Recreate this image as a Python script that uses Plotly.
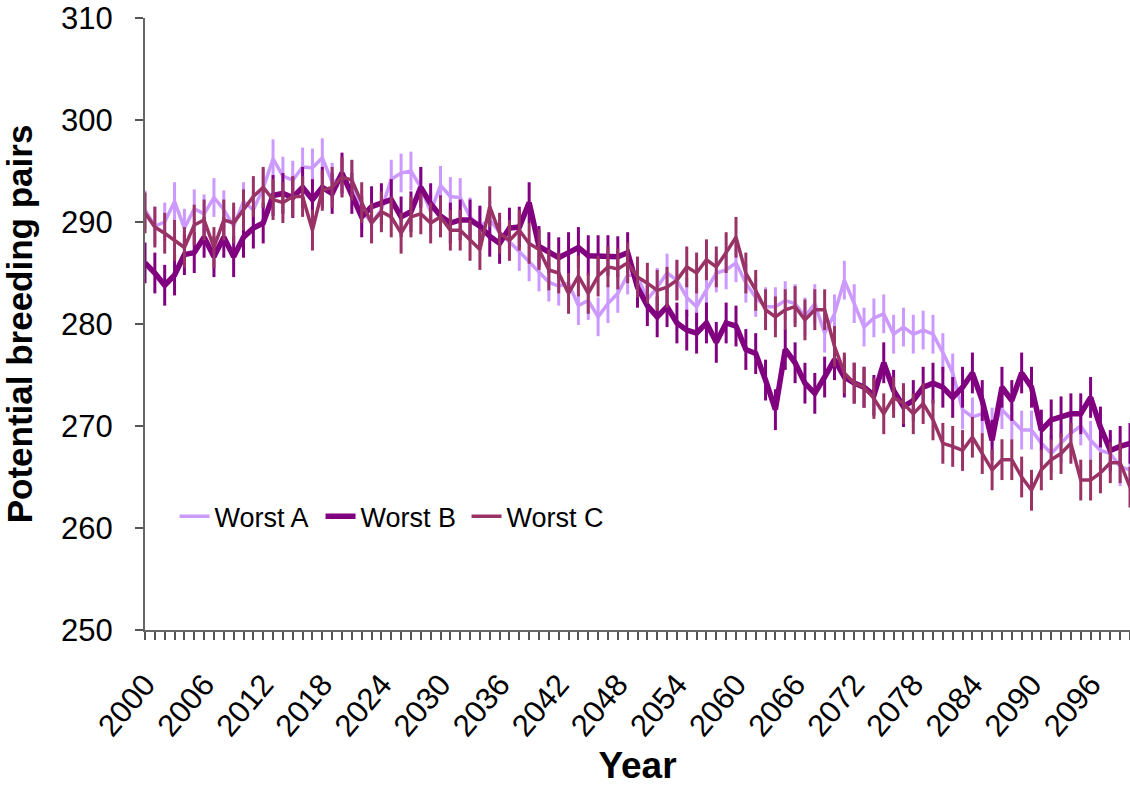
import plotly.graph_objects as go

# Years simulated
years = list(range(2000, 2101))

# Mean potential breeding pairs per scenario
worst_a = [
    291.2, 289.6, 290.0, 292.0, 289.4, 291.3, 290.8, 292.4, 291.2, 289.6,
    292.0, 291.2, 293.3, 296.2, 294.5, 294.1, 295.4, 295.3, 296.3, 293.9,
    294.4, 294.1, 291.2, 289.9, 291.2, 294.2, 294.8, 295.0, 293.4, 291.0,
    293.6, 292.5, 292.4, 290.5, 289.6, 290.2, 289.0, 288.1, 287.1, 286.1,
    285.1, 284.1, 283.7, 284.0, 281.8, 282.3, 280.7, 282.0, 283.0, 284.8,
    284.7, 282.4, 283.6, 285.0, 284.3, 282.6, 281.7, 283.3, 285.0, 285.3,
    286.0, 284.0, 282.6, 281.7, 281.7, 282.3, 282.0, 280.7, 282.0, 279.1,
    281.0, 284.3, 282.0, 279.7, 280.6, 281.0, 279.0, 279.7, 279.0, 279.4,
    279.0, 277.2, 275.2, 271.6, 270.9, 271.2, 269.9, 271.6, 270.6, 269.6,
    269.6, 268.3, 267.3, 268.3, 269.3, 270.0, 268.6, 267.6, 267.3, 266.0,
    265.7,
]

worst_b = [
    286.0, 285.0, 283.8, 284.8, 286.8, 287.0, 288.5, 286.6, 288.5, 286.6,
    288.5, 289.4, 289.9, 292.6, 292.8, 292.4, 293.4, 292.2, 293.4, 292.8,
    294.8, 292.8, 290.5, 291.5, 291.8, 292.2, 290.5, 291.0, 293.4, 291.8,
    290.6, 289.9, 290.2, 290.2, 289.6, 288.6, 287.9, 289.4, 289.5, 291.9,
    287.6, 287.0, 286.5, 287.0, 287.5, 286.7, 286.7, 286.7, 286.6, 287.0,
    283.6, 281.8, 280.7, 281.7, 280.1, 279.4, 279.1, 280.1, 278.2, 280.1,
    279.8, 277.5, 277.1, 274.5, 271.6, 277.5, 276.2, 274.2, 273.2, 274.8,
    276.5, 274.8, 274.2, 273.8, 273.0, 276.2, 273.5, 271.9, 272.5, 273.8,
    274.2, 273.8, 272.8, 273.8, 275.2, 272.5, 268.6, 273.8, 272.5, 275.2,
    273.8, 269.6, 270.6, 270.9, 271.2, 271.2, 272.8, 269.9, 267.6, 268.0,
    268.3,
]

worst_c = [
    290.9, 289.5, 288.9, 288.2, 287.5, 289.7, 290.2, 287.5, 290.2, 289.9,
    291.2, 292.5, 293.4, 292.2, 291.9, 292.5, 292.5, 289.2, 293.1, 293.4,
    294.4, 294.1, 291.9, 289.9, 291.0, 290.5, 288.9, 290.5, 290.8, 289.9,
    290.5, 289.2, 289.2, 288.2, 287.3, 291.5, 288.9, 288.2, 289.2, 287.9,
    287.3, 285.3, 285.0, 283.0, 284.7, 283.0, 284.7, 285.6, 285.4, 286.0,
    284.6, 284.0, 283.3, 283.6, 284.3, 285.6, 285.0, 286.3, 285.6, 287.0,
    288.5, 285.0, 283.3, 281.4, 280.7, 281.4, 281.7, 280.4, 281.4, 281.4,
    277.8, 275.2, 274.2, 273.8, 272.7, 271.2, 272.8, 272.2, 271.2, 272.2,
    270.6, 268.3, 268.0, 267.6, 268.9, 267.3, 265.7, 266.7, 266.7, 265.0,
    263.7, 265.7, 266.7, 267.3, 268.3, 264.7, 264.7, 265.4, 266.4, 266.4,
    264.0,
]

# Half-width of the error bar around each yearly mean
err_a = 1.9
err_b = 2.0
err_c = 2.0

series = [
    ("Worst A", worst_a, err_a, "#CC99FF", 3.5),
    ("Worst B", worst_b, err_b, "#800080", 5.5),
    ("Worst C", worst_c, err_c, "#993366", 3.5),
]

fig = go.Figure()
for name, vals, err, color, lw in series:
    fig.add_trace(go.Scatter(
        x=years, y=vals, name=name, mode="lines",
        line=dict(color=color, width=lw),
        error_y=dict(type="constant", value=err, color=color,
                     thickness=3, width=0),
    ))

font_family = "Liberation Sans, Arial, sans-serif"

fig.update_layout(
    width=1130, height=792,
    margin=dict(l=145, r=0, t=18, b=162),
    paper_bgcolor="white", plot_bgcolor="white",
    showlegend=True,
    legend=dict(
        orientation="h", x=0.030, y=0.185, xanchor="left", yanchor="middle",
        font=dict(family=font_family, size=27, color="black"),
        bgcolor="rgba(255,255,255,0)", itemwidth=30, tracegroupgap=0,
        entrywidth=101, entrywidthmode="pixels",
    ),
    font=dict(family=font_family, color="black"),
)

fig.update_xaxes(
    range=[2000, 2100], tick0=2000, dtick=6,
    ticks="outside", ticklen=8, tickwidth=1.5, tickcolor="#555",
    minor=dict(dtick=1, ticks="outside", ticklen=8, tickwidth=1.5, tickcolor="#555"),
    tickangle=-50, ticklabelstandoff=14,
    tickfont=dict(family=font_family, size=31, color="black"),
    showline=True, linecolor="#666", linewidth=2,
    showgrid=False, zeroline=False,
    title=dict(text="<b>Year</b>", font=dict(family=font_family, size=37, color="black"),
               standoff=10),
)

fig.update_yaxes(
    range=[250, 310], dtick=10,
    ticks="outside", ticklen=8, tickwidth=1.5, tickcolor="#555",
    ticklabelstandoff=16,
    tickfont=dict(family=font_family, size=31, color="black"),
    showline=True, linecolor="#666", linewidth=2,
    showgrid=False, zeroline=False,
    title=dict(text="<b>Potential breeding pairs</b>",
               font=dict(family=font_family, size=35, color="black"), standoff=20),
)

fig.write_html("out.html")
